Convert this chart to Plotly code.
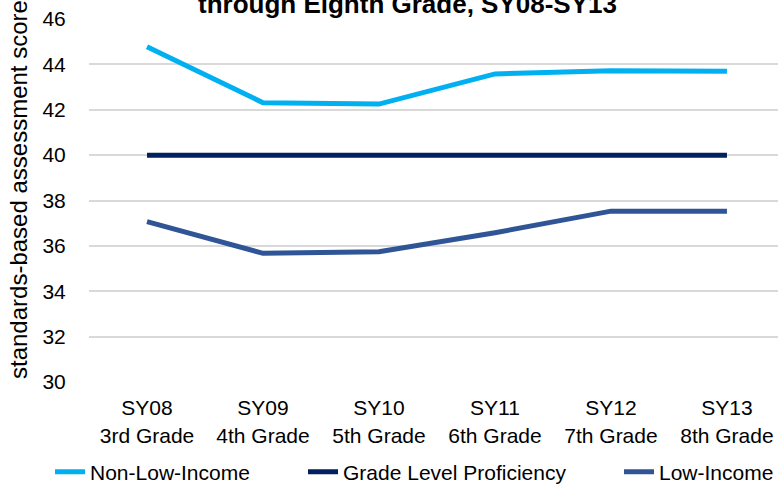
import plotly.graph_objects as go

categories = ["SY08<br>3rd Grade", "SY09<br>4th Grade", "SY10<br>5th Grade",
              "SY11<br>6th Grade", "SY12<br>7th Grade", "SY13<br>8th Grade"]
non_low_income = [44.78, 42.31, 42.25, 43.58, 43.72, 43.70]
grade_level = [40, 40, 40, 40, 40, 40]
low_income = [37.07, 35.67, 35.74, 36.58, 37.53, 37.53]
y_ticks = [30, 32, 34, 36, 38, 40, 42, 44, 46]

FONT = "Liberation Sans, Arial, sans-serif"
xs = list(range(len(categories)))

series = [
    ("Non-Low-Income", non_low_income, "#00B0F0", "legend", 50),
    ("Grade Level Proficiency", grade_level, "#002060", "legend2", 303),
    ("Low-Income", low_income, "#2F5597", "legend3", 619),
]

fig = go.Figure()
legend_layouts = {}
for name, vals, color, leg, lx in series:
    fig.add_trace(go.Scatter(x=xs, y=vals, mode="lines", name=name, legend=leg,
                             line=dict(color=color, width=5)))
    legend_layouts[leg] = dict(orientation="h", xref="container", yref="container",
                               x=lx / 778, xanchor="left", y=13 / 485, yanchor="middle",
                               font=dict(size=21), itemwidth=30,
                               bgcolor="rgba(0,0,0,0)")

fig.update_layout(
    width=778, height=485,
    margin=dict(l=89, r=0, t=19, b=103, autoexpand=False),
    paper_bgcolor="white", plot_bgcolor="white",
    font=dict(family=FONT, size=21, color="#000000"),
    showlegend=True,
    annotations=[
        dict(text="<b>through Eighth Grade, SY08-SY13</b>", xref="paper", yref="paper",
             x=(407 - 89) / 689, y=1.0, xanchor="center", yanchor="bottom", yshift=-2,
             showarrow=False, font=dict(size=26, color="#000000")),
        dict(text="standards-based assessment score", xref="paper", yref="paper",
             x=(18 - 89) / 689, y=(382 - 190) / 363, xanchor="center", yanchor="middle",
             textangle=-90, showarrow=False, font=dict(size=24, color="#000000")),
    ],
    **legend_layouts,
)
fig.update_xaxes(tickmode="array", tickvals=xs, ticktext=categories,
                 range=[-0.5, 5.44], showgrid=False, zeroline=False,
                 showline=False, ticks="outside", ticklen=7,
                 tickcolor="rgba(0,0,0,0)", tickfont=dict(size=21), automargin=False)
fig.update_yaxes(range=[30, 46], tickvals=y_ticks, showgrid=True,
                 gridcolor="#D9D9D9", gridwidth=1.5, zeroline=False, showline=False,
                 ticks="outside", ticklen=18, tickcolor="rgba(0,0,0,0)",
                 tickfont=dict(size=21), automargin=False)
fig.write_html("out.html", config={"displayModeBar": False},
               post_script="document.body.style.margin='0';document.body.style.overflow='hidden';")
